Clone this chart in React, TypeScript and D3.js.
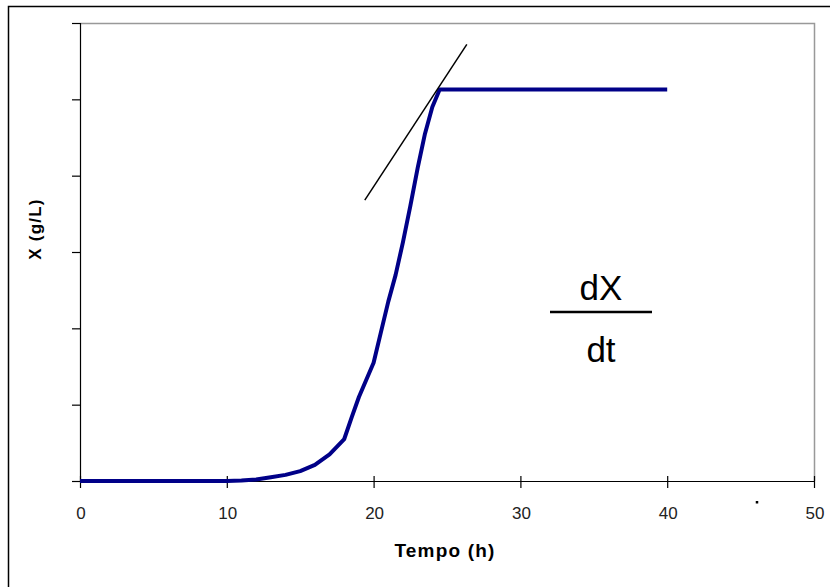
import React from 'react'
import * as d3 from 'd3'

// values
const time = [0, 10, 11, 12, 13, 14, 15, 16, 17, 18, 18.5, 19, 20, 20.5, 21, 21.5, 22, 22.5, 23, 23.5, 24, 24.5, 40]
const biomass = [0, 0, 0.005, 0.02, 0.05, 0.08, 0.13, 0.21, 0.35, 0.55, 0.83, 1.1, 1.55, 1.95, 2.35, 2.7, 3.13, 3.6, 4.1, 4.55, 4.9, 5.13, 5.13]
const tangentT = [19.4, 26.35]
const tangentX = [3.68, 5.72]
const xTicks = [0, 10, 20, 30, 40, 50]
const yTicks = [0, 1, 2, 3, 4, 5, 6]

const width = 830
const height = 587
const left = 80
const right = 814
const top = 23
const bottom = 481

const x = d3.scaleLinear().domain([0, 50]).range([left, right])
const y = d3.scaleLinear().domain([0, 6]).range([bottom, top])

const font = '"Liberation Sans", Arial, sans-serif'

export default function App() {
    const pts: [number, number][] = time.map((t, i) => [t, biomass[i]])
    const line = d3.line<[number, number]>()
        .x(d => x(d[0]))
        .y(d => y(d[1]))

    const tangent: [number, number][] = tangentT.map((t, i) => [t, tangentX[i]])

    return (
        <svg width={width} height={height} style={{ position: 'absolute', left: 0, top: 0, background: '#fff' }}>
            {/* outer frame */}
            <path d={`M8.5,${height} V6.5 H${width}`} fill="none" stroke="#000" strokeWidth={1.5} />

            {/* plot frame top / right */}
            <path d={`M${left},${top + 0.5} H${right + 0.5} V${bottom}`} fill="none" stroke="#999" strokeWidth={1.5} />

            {/* y axis */}
            <line x1={left + 0.5} x2={left + 0.5} y1={top} y2={bottom + 1} stroke="#000" strokeWidth={1.2} />
            {yTicks.map(t => (
                <line key={'y' + t} x1={left - 8} x2={left} y1={y(t) + 0.5} y2={y(t) + 0.5} stroke="#000" strokeWidth={1.2} />
            ))}

            {/* x axis */}
            <line x1={left} x2={right + 1} y1={bottom + 0.5} y2={bottom + 0.5} stroke="#000" strokeWidth={1.2} />
            {xTicks.map(t => (
                <g key={'x' + t}>
                    <line x1={x(t) + 0.5} x2={x(t) + 0.5} y1={bottom - 5} y2={bottom + 7} stroke="#000" strokeWidth={1.2} />
                    <text x={x(t) + 1} y={519} textAnchor="middle" fontFamily={font} fontSize={17} fill="#222">{t}</text>
                </g>
            ))}

            {/* curve */}
            <path d={line(pts) || ''} fill="none" stroke="#000088" strokeWidth={4} strokeLinejoin="round" />

            {/* tangent line */}
            <path d={line(tangent) || ''} fill="none" stroke="#000" strokeWidth={1.5} />

            {/* dX / dt */}
            <text x={601} y={300} textAnchor="middle" fontFamily={font} fontSize={35} fill="#000">dX</text>
            <line x1={550} x2={652} y1={312} y2={312} stroke="#000" strokeWidth={2.5} />
            <text x={601} y={362} textAnchor="middle" fontFamily={font} fontSize={35} fill="#000">dt</text>

            {/* axis titles */}
            <text x={445} y={557} textAnchor="middle" fontFamily={font} fontSize={19} fontWeight="bold" letterSpacing={1.2}>Tempo (h)</text>
            <text transform="translate(41,229) rotate(-90)" textAnchor="middle" fontFamily={font} fontSize={17} fontWeight="bold" letterSpacing={1.2}>X (g/L)</text>

            {/* stray dot in the original */}
            <rect x={x(46.1) - 1} y={501} width={2.5} height={2.5} fill="#000" />
        </svg>
    )
}
